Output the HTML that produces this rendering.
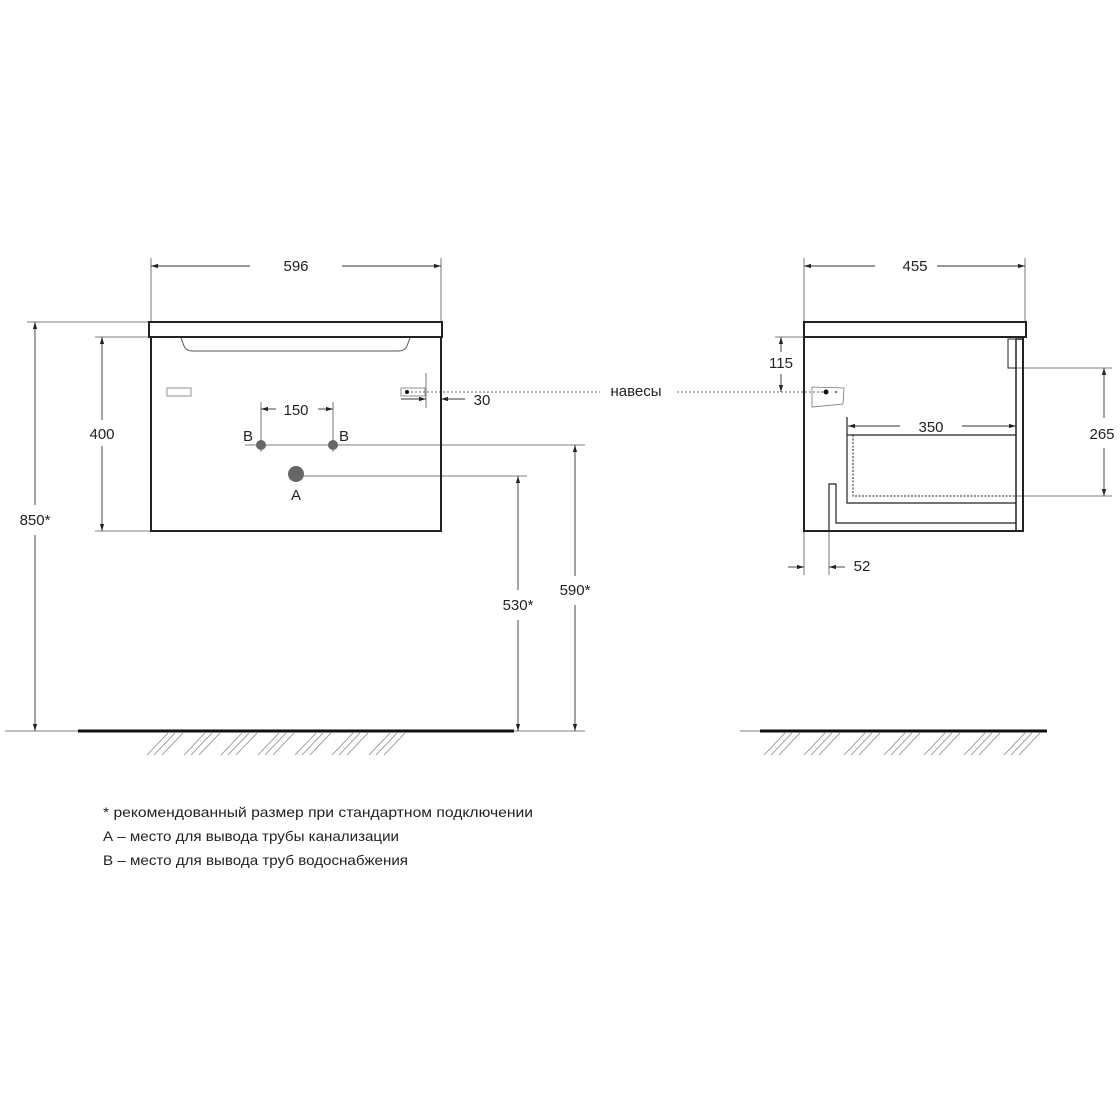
<!DOCTYPE html>
<html><head><meta charset="utf-8"><style>
html,body{margin:0;padding:0;background:#fff;}
svg{display:block;}
text{font-family:"Liberation Sans",sans-serif;fill:#222;}
</style></head><body>
<svg width="1120" height="1120" viewBox="0 0 1120 1120" xmlns="http://www.w3.org/2000/svg">
<defs>
<marker id="a" viewBox="0 0 10 10" refX="10" refY="5" markerWidth="7" markerHeight="7" orient="auto-start-reverse" markerUnits="userSpaceOnUse"><path d="M0,2 L10,5 L0,8 z" fill="#222"/></marker>
</defs>
<g stroke="#555" stroke-width="0.8" fill="none">
<line x1="151" y1="258" x2="151" y2="322"/><line x1="441" y1="258" x2="441" y2="322"/>
<line x1="804" y1="258" x2="804" y2="322"/><line x1="1025" y1="258" x2="1025" y2="322"/>
<line x1="27" y1="322" x2="149" y2="322"/>
<line x1="95" y1="337" x2="151" y2="337"/><line x1="95" y1="531" x2="151" y2="531"/>
<line x1="245" y1="445" x2="585" y2="445"/>
<line x1="296" y1="476" x2="527" y2="476"/>
<line x1="261" y1="402" x2="261" y2="452"/><line x1="333" y1="402" x2="333" y2="452"/>
<line x1="426" y1="373" x2="426" y2="408"/>
<line x1="775" y1="337" x2="804" y2="337"/>
<line x1="1016" y1="368" x2="1112" y2="368"/><line x1="1016" y1="496" x2="1112" y2="496"/>
<line x1="804" y1="531" x2="804" y2="575"/><line x1="829" y1="523" x2="829" y2="575"/>
<line x1="5" y1="731" x2="585" y2="731"/><line x1="740" y1="731" x2="760" y2="731"/>
</g>
<g stroke="#333" stroke-width="0.9" fill="none">
<line x1="151" y1="266" x2="250" y2="266" marker-start="url(#a)"/><line x1="342" y1="266" x2="441" y2="266" marker-end="url(#a)"/>
<line x1="804" y1="266" x2="875" y2="266" marker-start="url(#a)"/><line x1="937" y1="266" x2="1025" y2="266" marker-end="url(#a)"/>
<line x1="35" y1="322" x2="35" y2="505" marker-start="url(#a)"/><line x1="35" y1="535" x2="35" y2="731" marker-end="url(#a)"/>
<line x1="102" y1="337" x2="102" y2="420" marker-start="url(#a)"/><line x1="102" y1="446" x2="102" y2="531" marker-end="url(#a)"/>
<line x1="518" y1="476" x2="518" y2="590" marker-start="url(#a)"/><line x1="518" y1="620" x2="518" y2="731" marker-end="url(#a)"/>
<line x1="575" y1="445" x2="575" y2="576" marker-start="url(#a)"/><line x1="575" y1="605" x2="575" y2="731" marker-end="url(#a)"/>
<line x1="261" y1="409" x2="276" y2="409" marker-start="url(#a)"/><line x1="318" y1="409" x2="333" y2="409" marker-end="url(#a)"/>
<line x1="401" y1="399" x2="426" y2="399" marker-end="url(#a)"/><line x1="465" y1="399" x2="441" y2="399" marker-end="url(#a)"/>
<line x1="781" y1="337" x2="781" y2="352" marker-start="url(#a)"/><line x1="781" y1="374" x2="781" y2="392" marker-end="url(#a)"/>
<line x1="848" y1="426" x2="900" y2="426" marker-start="url(#a)"/><line x1="962" y1="426" x2="1016" y2="426" marker-end="url(#a)"/>
<line x1="1104" y1="368" x2="1104" y2="418" marker-start="url(#a)"/><line x1="1104" y1="448" x2="1104" y2="496" marker-end="url(#a)"/>
<line x1="788" y1="567" x2="804" y2="567" marker-end="url(#a)"/><line x1="845" y1="567" x2="829" y2="567" marker-end="url(#a)"/>
</g>
<g stroke="#666" stroke-width="1" stroke-dasharray="2,2" fill="none">
<line x1="407" y1="392" x2="600" y2="392"/><line x1="677" y1="392" x2="826" y2="392"/>
</g>
<g stroke="#222" fill="none">
<rect x="149" y="322" width="293" height="15" stroke-width="2"/>
<rect x="151" y="337" width="290" height="194" stroke-width="2"/>
<path d="M181,338 L184,346 Q186,351 193,351 L398,351 Q405,351 407,346 L410,338" stroke-width="1" stroke="#555"/>
<rect x="167" y="388" width="24" height="8" stroke-width="0.8" stroke="#777"/>
<rect x="401" y="388" width="24" height="8" stroke-width="0.8" stroke="#777"/>
</g>
<circle cx="407" cy="392" r="2" fill="#111"/>
<circle cx="261" cy="445" r="5" fill="#666"/><circle cx="333" cy="445" r="5" fill="#666"/>
<circle cx="296" cy="474" r="8" fill="#666"/>
<g stroke="#222" fill="none">
<rect x="804" y="322" width="222" height="15" stroke-width="2"/>
<rect x="804" y="337" width="219" height="194" stroke-width="2"/>
<rect x="1016" y="339" width="7" height="192" stroke-width="1.5"/>
<rect x="1008" y="339" width="8" height="29" stroke-width="1"/>
<path d="M829,531 L829,484 L836,484 L836,523 L1016,523" stroke-width="1.2"/>
<path d="M847,417 L847,503 L1016,503" stroke-width="1.2"/>
<line x1="847" y1="435" x2="1016" y2="435" stroke-width="1.2"/>
<path d="M853,435 L853,496 L1016,496" stroke-width="1" stroke-dasharray="2,1.5"/>
<polygon points="812,387 844,388 843,404 812,407" stroke-width="0.8" stroke="#777"/>
</g>
<circle cx="826" cy="392" r="2.5" fill="#111"/><circle cx="836" cy="392" r="1.2" fill="#777"/>
<line x1="78" y1="731" x2="514" y2="731" stroke="#111" stroke-width="3"/>
<line x1="760" y1="731" x2="1047" y2="731" stroke="#111" stroke-width="3"/>
<g stroke="#888" stroke-width="0.8">
<g id="hl">
<line x1="168" y1="733" x2="147" y2="755"/><line x1="175" y1="733" x2="154" y2="755"/><line x1="183" y1="733" x2="162" y2="755"/>
</g>
<use href="#hl" x="37"/><use href="#hl" x="74"/><use href="#hl" x="111"/><use href="#hl" x="148"/><use href="#hl" x="185"/><use href="#hl" x="222"/>
<use href="#hl" x="617"/><use href="#hl" x="657"/><use href="#hl" x="697"/><use href="#hl" x="737"/><use href="#hl" x="777"/><use href="#hl" x="817"/><use href="#hl" x="857"/>
</g>
<g font-size="15" text-anchor="middle">
<text x="296" y="271">596</text>
<text x="915" y="271">455</text>
<text x="35" y="525">850*</text>
<text x="102" y="439">400</text>
<text x="518" y="610">530*</text>
<text x="575" y="595">590*</text>
<text x="296" y="415">150</text>
<text x="248" y="441">B</text>
<text x="344" y="441">B</text>
<text x="296" y="500">A</text>
<text x="482" y="405">30</text>
<text x="636" y="396">навесы</text>
<text x="781" y="368">115</text>
<text x="931" y="432">350</text>
<text x="1102" y="439">265</text>
<text x="862" y="571">52</text>
</g>
<g font-size="14">
<text x="103" y="817" textLength="430" lengthAdjust="spacingAndGlyphs">* рекомендованный размер при стандартном подключении</text>
<text x="103" y="841" textLength="296" lengthAdjust="spacingAndGlyphs">А – место для вывода трубы канализации</text>
<text x="103" y="865" textLength="305" lengthAdjust="spacingAndGlyphs">В – место для вывода труб водоснабжения</text>
</g>
</svg>
</body></html>
